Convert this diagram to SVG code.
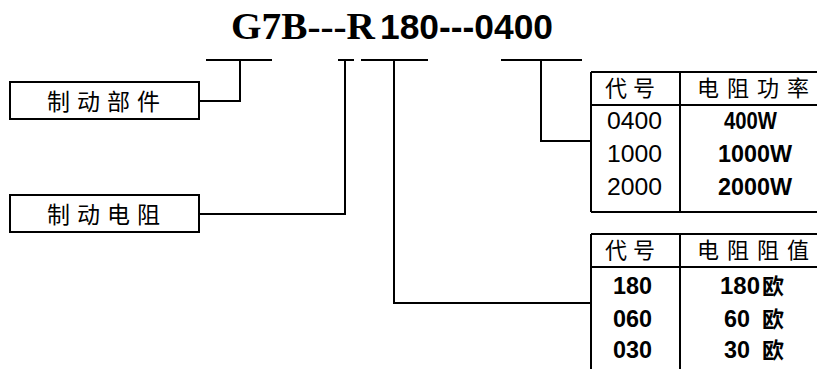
<svg xmlns="http://www.w3.org/2000/svg" width="817" height="369" viewBox="0 0 817 369">
<style>
.ln{fill:none;stroke:#000;stroke-width:2}
.box{fill:#fff;stroke:#000;stroke-width:2}
.cjk{font-family:"Noto Sans CJK SC",sans-serif;font-size:22px;fill:#000}
.big{font-size:23px}
.num{font-family:"Liberation Sans","Noto Sans CJK SC",sans-serif;font-size:23px;fill:#000}
.b{font-weight:bold}
</style>
<rect width="817" height="369" fill="#fff"/>
<g id="title">
<text x="231" y="39" font-family="Liberation Serif,serif" font-weight="bold" font-size="37" textLength="144" lengthAdjust="spacingAndGlyphs">G7B---R</text>
<text x="380" y="39" font-family="Liberation Sans,sans-serif" font-weight="bold" font-size="35" textLength="173" lengthAdjust="spacingAndGlyphs">180---0400</text>
</g>
<g id="node-brake-unit">
<rect class="box" x="10" y="82" width="189" height="37"/>
<text class="cjk big" x="47" y="110" letter-spacing="7">制动部件</text>
</g>
<g id="node-brake-resistor">
<rect class="box" x="10" y="195" width="189" height="37"/>
<text class="cjk big" x="47" y="223" letter-spacing="7">制动电阻</text>
</g>
<g id="node-power-table">
<path class="ln" d="M591 72H817M591 105H817M591 212H817M591 72V212M680 72V212"/>
<text class="cjk" x="605" y="96" letter-spacing="6">代号</text>
<text class="cjk" x="697" y="96" letter-spacing="8">电阻功率</text>
<text class="num" x="607" y="129" textLength="55" lengthAdjust="spacingAndGlyphs">0400</text>
<text class="num" x="607" y="162" textLength="55" lengthAdjust="spacingAndGlyphs">1000</text>
<text class="num" x="607" y="195" textLength="55" lengthAdjust="spacingAndGlyphs">2000</text>
<text class="num b" x="724" y="129" textLength="53" lengthAdjust="spacingAndGlyphs">400W</text>
<text class="num b" x="718" y="162" textLength="74" lengthAdjust="spacingAndGlyphs">1000W</text>
<text class="num b" x="718" y="195" textLength="74" lengthAdjust="spacingAndGlyphs">2000W</text>
</g>
<g id="node-resistance-table">
<path class="ln" d="M591 234H817M591 267H817M591 234V369M680 234V369"/>
<text class="cjk" x="605" y="258" letter-spacing="6">代号</text>
<text class="cjk" x="697" y="258" letter-spacing="8">电阻阻值</text>
<text class="num b" x="613" y="294" textLength="39" lengthAdjust="spacingAndGlyphs">180</text>
<text class="num b" x="613" y="327" textLength="39" lengthAdjust="spacingAndGlyphs">060</text>
<text class="num b" x="613" y="358" textLength="39" lengthAdjust="spacingAndGlyphs">030</text>
<text class="num b" x="720" y="294" textLength="40" lengthAdjust="spacingAndGlyphs">180</text>
<text class="cjk b" x="762" y="294">欧</text>
<text class="num b" x="724" y="327" textLength="26" lengthAdjust="spacingAndGlyphs">60</text>
<text class="cjk b" x="762" y="327">欧</text>
<text class="num b" x="724" y="358" textLength="26" lengthAdjust="spacingAndGlyphs">30</text>
<text class="cjk b" x="762" y="358">欧</text>
</g>
<g id="connectors">
<path class="ln" d="M206 60H272M199 101H240V60"/>
<path class="ln" d="M338 60H354M199 214H345V60"/>
<path class="ln" d="M361 60H428M394 60V303H591"/>
<path class="ln" d="M501 60H582M541 60V141H591"/>
</g>
</svg>
